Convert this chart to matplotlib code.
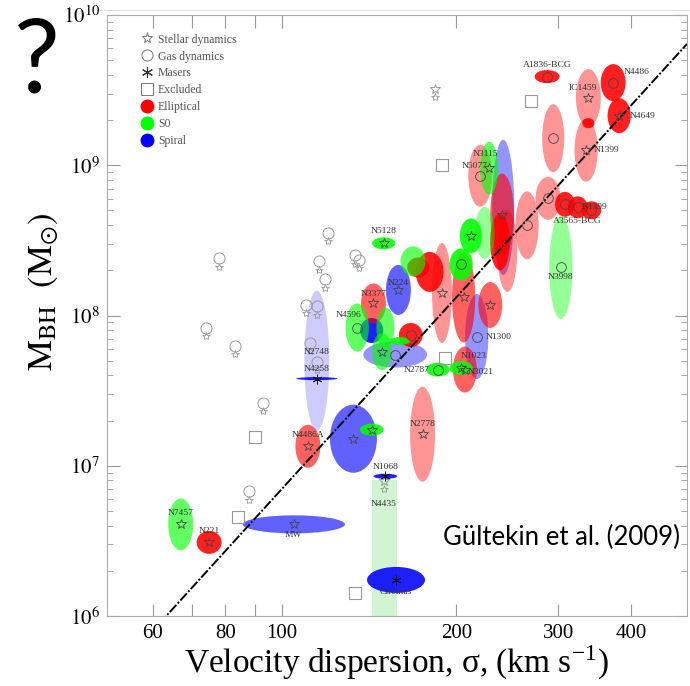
import numpy as np
import matplotlib
matplotlib.use('Agg')
import matplotlib.pyplot as plt
from matplotlib.patches import Ellipse
from matplotlib.lines import Line2D

plt.rcParams['font.family'] = ['Liberation Serif', 'DejaVu Serif']
plt.rcParams['mathtext.fontset'] = 'stix'

# ---- data: sigma in km/s, log10 of M_BH, full ellipse widths in dex ----
# shade: 0 faint .. 3 solid ; method: s stellar, g gas, m maser, '' none

# ellipticals
ell_name = ['A1836-BCG', 'N4486', 'IC1459', '', 'N4649', 'N1399', '', '', 'A3565-BCG',
            'N1399', '', 'N5077', '', '', '', '', '', '', '', '', '', 'N3021', 'N3377',
            '', 'N4486A', 'N221', 'N2778']
ell_sigma = [287, 373, 338, 338, 382, 335, 294, 288, 308, 324, 342, 220, 240, 238, 245,
             265, 180, 172, 189, 206, 229, 207, 144, 167, 111, 75, 175]
ell_logm = [9.59, 9.55, 9.45, 9.28, 9.33, 9.10, 9.18, 8.78, 8.74, 8.72, 8.70, 8.93, 8.67,
            8.49, 8.43, 8.60, 8.29, 8.32, 8.15, 8.12, 8.07, 7.64, 8.08, 7.87, 7.13, 6.49, 7.21]
ell_dsig = [0.043, 0.043, 0.043, 0.021, 0.040, 0.040, 0.038, 0.043, 0.034, 0.034, 0.034,
            0.041, 0.041, 0.034, 0.034, 0.040, 0.048, 0.038, 0.034, 0.040, 0.041, 0.041,
            0.043, 0.041, 0.043, 0.043, 0.043]
ell_dlogm = [0.087, 0.246, 0.379, 0.067, 0.233, 0.419, 0.453, 0.286, 0.166, 0.146, 0.120,
             0.413, 0.55, 0.379, 0.546, 0.453, 0.266, 0.133, 0.666, 0.60, 0.306, 0.306,
             0.266, 0.16, 0.286, 0.153, 0.632]
ell_shade = [3, 3, 1, 3, 3, 1, 1, 1, 3, 3, 3, 1, 2, 3, 1, 1, 3, 3, 1, 2, 2, 2, 2, 3, 2, 3, 1]
ell_method = ['g', 'g', 's', '', 's', 's', 'g', 'g', 'g', 'g', 'g', 'g', 's', '', '', 'g',
              '', '', 's', 's', 's', 's', 's', 'g', 's', 's', 's']

# lenticulars (S0)
s0_name = ['N3115', '', '', '', '', 'N5128', 'N4596', '', '', '', 'N2787', 'N1023',
           'N3998', '', 'N7457']
s0_sigma = [228, 224, 212, 204, 168.5, 150, 135, 151, 149, 160, 186, 204, 303, 143, 67]
s0_logm = [8.98, 8.55, 8.53, 8.34, 8.36, 8.48, 7.92, 7.92, 7.76, 7.83, 7.64, 7.65, 8.32,
           7.24, 6.61]
s0_dsig = [0.031, 0.034, 0.038, 0.040, 0.043, 0.040, 0.040, 0.031, 0.034, 0.034, 0.040,
           0.040, 0.040, 0.041, 0.043]
s0_dlogm = [0.353, 0.346, 0.233, 0.213, 0.20, 0.080, 0.32, 0.266, 0.246, 0.053, 0.093,
            0.093, 0.686, 0.080, 0.346]
s0_shade = [2, 1, 3, 3, 2, 3, 2, 2, 2, 3, 3, 3, 1, 3, 2]
s0_method = ['s', '', 's', 'g', '', 's', 'g', '', 's', '', 'g', 's', 'g', 's', 's']

# N4435: open-ended (upper limit) band
n4435_sigma = 150.5
n4435_dsig = 0.043
n4435_top = 6.905

# spirals
sp_name = ['', 'N224', '', '', 'N1300', 'N2748', 'N4258', '', 'N1068', 'MW', 'Circinus']
sp_sigma = [241, 159, 143, 157, 217, 115, 115, 133, 151, 105, 157.5]
sp_logm = [8.72, 8.17, 7.90, 7.74, 7.86, 7.70, 7.58, 7.18, 6.93, 6.61, 6.24]
sp_dsig = [0.038, 0.043, 0.040, 0.110, 0.040, 0.043, 0.071, 0.081, 0.041, 0.176, 0.100]
sp_dlogm = [0.90, 0.333, 0.166, 0.173, 0.566, 0.932, 0.020, 0.453, 0.033, 0.120, 0.173]
sp_shade = [1, 2, 3, 1, 1, 0, 3, 2, 3, 2, 3]
sp_method = ['', 's', '', 'g', 'g', '', 'm', 's', 'm', 's', 'm']

# upper limits (grey)
ul_sigma = [120, 78, 116, 134, 136, 119, 110, 115, 74, 83, 112, 115, 93, 88, 184, 150]
ul_logm = [8.55, 8.38, 8.36, 8.40, 8.37, 8.24, 8.07, 8.06, 7.92, 7.80, 7.82, 7.69, 7.42,
           6.83, 9.51, 6.90]
ul_method = ['g'] * 14 + ['s', 's']

# excluded objects
ex_sigma = [269, 189, 191, 90, 84, 134]
ex_logm = [9.43, 9.00, 7.72, 7.19, 6.66, 6.15]

# M-sigma fit (Gultekin et al. 2009)
fit_a, fit_b = 8.12, 4.24

x_ticks = [60, 70, 80, 90, 100, 200, 300, 400]
x_ticklabels = ['60', '', '80', '', '100', '200', '300', '400']
y_decades = [6, 7, 8, 9, 10]

# label offsets in points (same order as the names)
ell_off = [(0, 8), (17, 8), (-4, 7), None, (17, 0), (15, 0), None, None, (9, -12), (12, 0),
           None, (-4, 7), None, None, None, None, None, None, None, None, None, (11, -2),
           (0, 7), None, (0, 8), (0, 8), (0, 7)]
s0_off = [(-3, 10), None, None, None, None, (0, 9), (-6, 9), None, None, None, (-15, 0),
          (9, 9), (0, -7), None, (0, 8)]
sp_off = [None, (0, 5), None, None, (16, 0), (0, 6), (0, 7), None, (0, 7), (0, -8), (0, -9)]

shade_alpha = {0: 0.2, 1: 0.42, 2: 0.62, 3: 0.88}
method_marker = {'s': '*', 'g': 'o', 'm': (6, 2, 0)}
label_size = 6.8

fig = plt.figure(figsize=(6.9, 6.86), dpi=100)
ax = fig.add_axes([107 / 690, 70 / 686, 580 / 690, 601 / 686])


def draw_group(names, sig, logm, dsig, dlogm, shade, method, offs, color):
    order = np.argsort(shade, kind='stable')
    for i in order:
        x = np.log10(sig[i])
        ax.add_patch(Ellipse((x, logm[i]), dsig[i], dlogm[i], facecolor=color,
                             edgecolor='none', alpha=shade_alpha[shade[i]], zorder=2))
    for i in range(len(sig)):
        x = np.log10(sig[i])
        m = method[i]
        if m:
            mc = '#111' if m == 'm' else '#444'
            ax.plot(x, logm[i], ls='none', marker=method_marker[m], ms=7 if m != 'o' else 6.5,
                    mfc='none', mec=mc, mew=0.6, zorder=6)
        if names[i]:
            ax.annotate(names[i], (x, logm[i]), xytext=offs[i], textcoords='offset points',
                        ha='center', va='center', fontsize=label_size, color='#333', zorder=7)


# N4435 band
ax.bar(np.log10(n4435_sigma), n4435_top - 5.9, bottom=5.9, width=n4435_dsig,
       color='#00cc00', alpha=0.18, zorder=1)

draw_group(sp_name, sp_sigma, sp_logm, sp_dsig, sp_dlogm, sp_shade, sp_method, sp_off, 'blue')
draw_group(ell_name, ell_sigma, ell_logm, ell_dsig, ell_dlogm, ell_shade, ell_method,
           ell_off, 'red')
draw_group(s0_name, s0_sigma, s0_logm, s0_dsig, s0_dlogm, s0_shade, s0_method, s0_off,
           'lime')

# upper limits: marker with a small star just below it
for s, lm, m in zip(ul_sigma, ul_logm, ul_method):
    x = np.log10(s)
    ax.plot(x, lm, ls='none', marker=method_marker[m], ms=8 if m == 'g' else 7,
            mfc='none', mec='#999', mew=0.7, zorder=4)
    ax.plot(x, lm - 0.055, ls='none', marker='*', ms=6, mfc='none', mec='#999', mew=0.6,
            zorder=4)
ax.annotate('N4435', (np.log10(ul_sigma[-1]), ul_logm[-1]), xytext=(0, -17),
            textcoords='offset points', ha='center', va='center', fontsize=label_size,
            color='#333')

ax.plot(np.log10(ex_sigma), ex_logm, ls='none', marker='s', ms=8.5, mfc='none', mec='#999',
        mew=0.8, zorder=4)

# fit line
xl = np.log10([50, 500])
ax.plot(xl, fit_a + fit_b * (xl - np.log10(200)), color='black', lw=1.4,
        dashes=(5, 1, 1, 1), zorder=5)

ax.set_xlim(np.log10(50), np.log10(500))
ax.set_ylim(6, 10)
ax.set_xticks(np.log10(x_ticks))
ax.set_xticklabels(x_ticklabels)
ax.set_yticks(y_decades)
ax.set_yticklabels([r'$10^{%d}$' % d for d in y_decades])
ax.set_yticks([d + np.log10(k) for d in y_decades[:-1] for k in range(2, 10)], minor=True)
ax.tick_params(which='both', direction='in', top=True, right=True, color='#999')
ax.tick_params(which='major', length=9, width=0.8, labelsize=15)
ax.tick_params(axis='x', which='major', pad=6)
ax.tick_params(axis='y', which='major', pad=5)
ax.tick_params(which='minor', length=4, width=0.6)
for sp in ax.spines.values():
    sp.set_color('#aaa')

ax.set_xlabel(r'Velocity dispersion, σ, (km s$^{\mathregular{-1}}$)', fontsize=24,
              labelpad=0)
ax.set_ylabel(r'$\mathrm{M_{BH}}\ \ (\mathrm{M}_{\odot})$', fontsize=25)
ax.yaxis.set_label_coords(-0.08, 0.54)

handles = [
    Line2D([], [], ls='none', marker='*', ms=8, mfc='none', mec='#777', mew=0.7,
           label='Stellar dynamics'),
    Line2D([], [], ls='none', marker='o', ms=8, mfc='none', mec='#777', mew=0.7,
           label='Gas dynamics'),
    Line2D([], [], ls='none', marker=(6, 2, 0), ms=8, mec='#333', mew=0.8, label='Masers'),
    Line2D([], [], ls='none', marker='s', ms=9, mfc='none', mec='#777', mew=0.7,
           label='Excluded'),
    Line2D([], [], ls='none', marker='o', ms=9, mfc='red', mec='red', label='Elliptical'),
    Line2D([], [], ls='none', marker='o', ms=9, mfc='lime', mec='lime', label='S0'),
    Line2D([], [], ls='none', marker='o', ms=9, mfc='blue', mec='blue', label='Spiral'),
]
leg = ax.legend(handles=handles, loc='upper left', bbox_to_anchor=(0.052, 0.977),
                frameon=False, fontsize=8.5, handlelength=0.9, handletextpad=0.45,
                labelspacing=0.42, borderaxespad=0)
for t in leg.get_texts():
    t.set_color('#555')

ax.text(0.988, 0.131, 'Gültekin et al. (2009)', transform=ax.transAxes, ha='right',
        va='center', fontsize=18.5, family='Lato', color='black')
fig.text(0.053, 0.908, '?', fontsize=74, family='Lato', ha='center', va='center')
fig.add_artist(Line2D([0.145, 1], [0.986, 0.986], color='#e0e0e0', lw=0.8))

fig.savefig('out.png', dpi=100)
